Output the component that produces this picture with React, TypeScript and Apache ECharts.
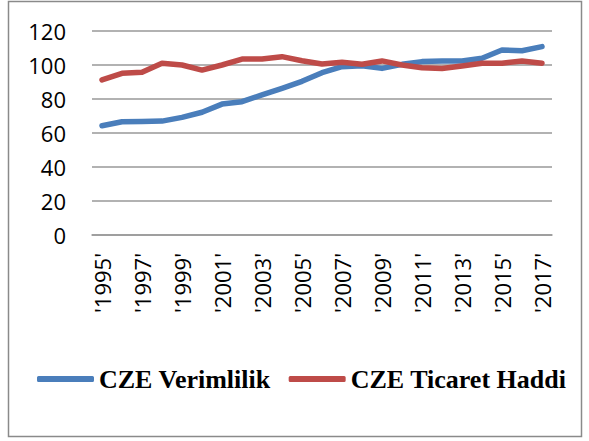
import React, { useEffect, useRef } from "react";
import * as echarts from "echarts";

const years = [
  "1995", "1996", "1997", "1998", "1999", "2000", "2001", "2002", "2003", "2004", "2005", "2006",
  "2007", "2008", "2009", "2010", "2011", "2012", "2013", "2014", "2015", "2016", "2017",
];
const verimlilik = [
  64.3, 66.6, 66.7, 67.0, 69.2, 72.2, 77.0, 78.4, 82.4, 86.3, 90.4, 95.5,
  99.0, 99.6, 98.0, 100.4, 102.0, 102.4, 102.4, 104.0, 108.8, 108.4, 110.8,
];
const ticaretHaddi = [
  91.2, 95.1, 95.7, 101.0, 100.0, 97.0, 100.0, 103.5, 103.5, 104.9, 102.5, 100.6,
  101.6, 100.4, 102.4, 100.0, 98.4, 98.0, 99.4, 101.0, 101.0, 102.4, 101.0,
];
const seriesNames = ["CZE Verimlilik", "CZE Ticaret Haddi"];
const yTicks = { min: 0, max: 120, interval: 20 };

export default function App() {
  const ref = useRef<HTMLDivElement>(null);
  useEffect(() => {
    if (!ref.current) return;
    const chart = echarts.init(ref.current, undefined, { renderer: "svg" });
    const axisFont = { fontFamily: "Open Sans", fontSize: 22, color: "#000" };
    chart.setOption({
      animation: false,
      backgroundColor: "#fff",
      graphic: [
        {
          type: "rect",
          shape: { x: 8.5, y: 1.5, width: 573, height: 435 },
          style: { fill: "none", stroke: "#8a8a8a", lineWidth: 1.5 },
          silent: true,
        },
      ],
      grid: { left: 92, right: 37, top: 31, bottom: 206, containLabel: false },
      legend: {
        left: 32,
        top: 361,
        icon: "roundRect",
        itemWidth: 57,
        itemHeight: 6,
        itemGap: 18,
        textStyle: {
          fontFamily: "Liberation Serif",
          fontWeight: "bold",
          fontSize: 26,
          color: "#000",
        },
        data: seriesNames,
      },
      xAxis: {
        type: "category",
        data: years,
        boundaryGap: true,
        axisLine: { show: true, lineStyle: { color: "#999", width: 1.5 } },
        axisTick: { show: false },
        axisLabel: {
          ...axisFont,
          rotate: 90,
          interval: 1,
          margin: 18,
          formatter: (v: string) => "'" + v + "'",
        },
      },
      yAxis: {
        type: "value",
        min: yTicks.min,
        max: yTicks.max,
        interval: yTicks.interval,
        axisLine: { show: false },
        axisTick: { show: false },
        axisLabel: { ...axisFont, margin: 26 },
        splitLine: { lineStyle: { color: "#999", width: 1.5 } },
      },
      series: [
        {
          name: seriesNames[0],
          type: "line",
          data: verimlilik,
          symbol: "none",
          lineStyle: { color: "#4a7ebb", width: 5.5, cap: "round", join: "round" },
          itemStyle: { color: "#4a7ebb" },
        },
        {
          name: seriesNames[1],
          type: "line",
          data: ticaretHaddi,
          symbol: "none",
          lineStyle: { color: "#be4b48", width: 5.5, cap: "round", join: "round" },
          itemStyle: { color: "#be4b48" },
        },
      ],
    });
    return () => chart.dispose();
  }, []);
  return (
    <div
      ref={ref}
      style={{ position: "fixed", left: 0, top: 0, width: 589, height: 441 }}
    />
  );
}
